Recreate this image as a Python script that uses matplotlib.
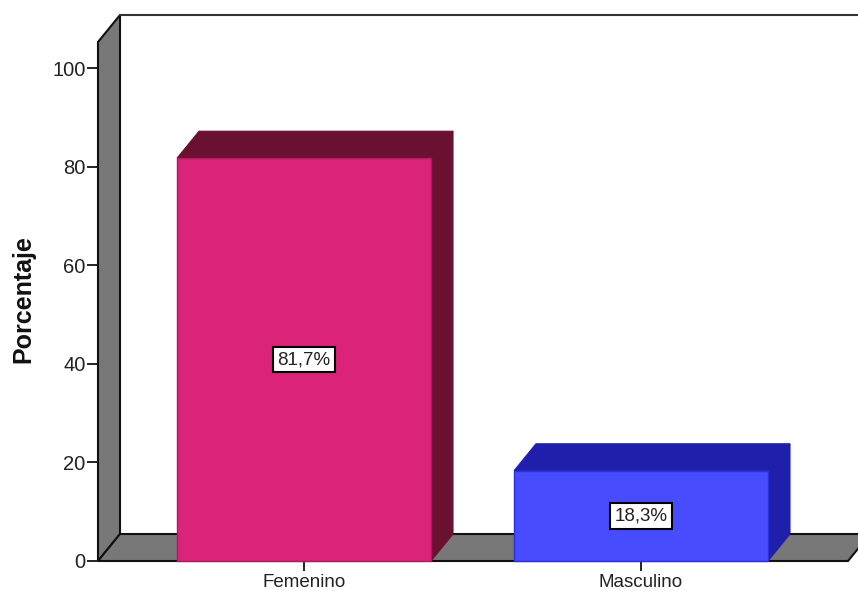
import matplotlib
matplotlib.use("Agg")
import matplotlib.pyplot as plt
from matplotlib.patches import Polygon

categories = ["Femenino", "Masculino"]
percentages = [81.7, 18.3]
value_labels = ["81,7%", "18,3%"]
y_ticks = [0, 20, 40, 60, 80, 100]

front_colors = ["#DB2379", "#474CFF"]
top_colors = ["#6A1030", "#1F1FAB"]
edge_colors = ["#B01A60", "#2A30D8"]

plt.rcParams["font.family"] = ["Liberation Sans", "DejaVu Sans"]

W, H = 858, 591
LEFT, BASE, TOP = 98, 561, 15
PX_PER_CAT = 337.0
PX_PER_VAL = 4.93
CAT0_X = 304

fig = plt.figure(figsize=(W / 100, H / 100), dpi=100)
ax = fig.add_axes([LEFT / W, (H - BASE) / H, (W - LEFT) / W, (BASE - TOP) / H])
ax.set_xlim((LEFT - CAT0_X) / PX_PER_CAT, (W - CAT0_X) / PX_PER_CAT)
ax.set_ylim(0, (BASE - TOP) / PX_PER_VAL)

# 3D depth, in data units
dx = 22 / PX_PER_CAT
dy = 27 / PX_PER_VAL
bar_w = 254 / PX_PER_CAT
x0, _ = ax.get_xlim()
_, y1 = ax.get_ylim()
floor_end = (848 - CAT0_X) / PX_PER_CAT
wall_grey = "#787878"


def add_poly(pts, face, edge, lw=1.5, z=2):
    ax.add_patch(Polygon(pts, closed=True, facecolor=face, edgecolor=edge,
                         linewidth=lw, zorder=z, clip_on=False, joinstyle="miter"))


# left wall and floor
add_poly([(x0, 0), (x0, y1 - dy), (x0 + dx, y1), (x0 + dx, dy)], wall_grey, "#111111")
add_poly([(x0, 0), (x0 + dx, dy), (floor_end + dx, dy), (floor_end, 0)], wall_grey, "#111111")
ax.plot([x0 + dx, x0 + 3], [y1, y1], color="#333333", lw=1.5, zorder=2, clip_on=False)

for i, (val, lab) in enumerate(zip(percentages, value_labels)):
    l = i - bar_w / 2
    r = i + bar_w / 2
    # side + top faces sit behind the front
    add_poly([(r, 0), (r + dx, dy), (r + dx, val + dy), (r, val)], top_colors[i], top_colors[i], lw=0.8, z=3)
    add_poly([(l, val), (l + dx, val + dy), (r + dx, val + dy), (r, val)], top_colors[i], top_colors[i], lw=0.8, z=3)
    ax.bar(i, val, width=bar_w, color=front_colors[i], edgecolor=edge_colors[i],
           linewidth=1.0, zorder=4, clip_on=False)
    ax.text(i, val / 2, lab, ha="center", va="center", fontsize=13.5, color="#222222", zorder=6,
            bbox=dict(boxstyle="square,pad=0.22", facecolor="white", edgecolor="black", linewidth=1.5))

for side in ["top", "right", "left", "bottom"]:
    ax.spines[side].set_visible(False)

ax.set_xticks(range(len(categories)))
ax.set_xticklabels(categories, fontsize=13.5, color="#222222")
ax.set_yticks(y_ticks)
ax.tick_params(axis="y", length=8, width=1.2, labelsize=14.5, pad=1, labelcolor="#222222")
ax.tick_params(axis="x", length=7, width=1.2, pad=2.5)
ax.set_ylabel("Porcentaje", fontsize=18, fontweight="bold", color="#111111")
ax.yaxis.set_label_coords(-0.083, 0.479)
ax.patch.set_alpha(0)

fig.savefig("out.png", dpi=100, facecolor="white")
plt.close(fig)
